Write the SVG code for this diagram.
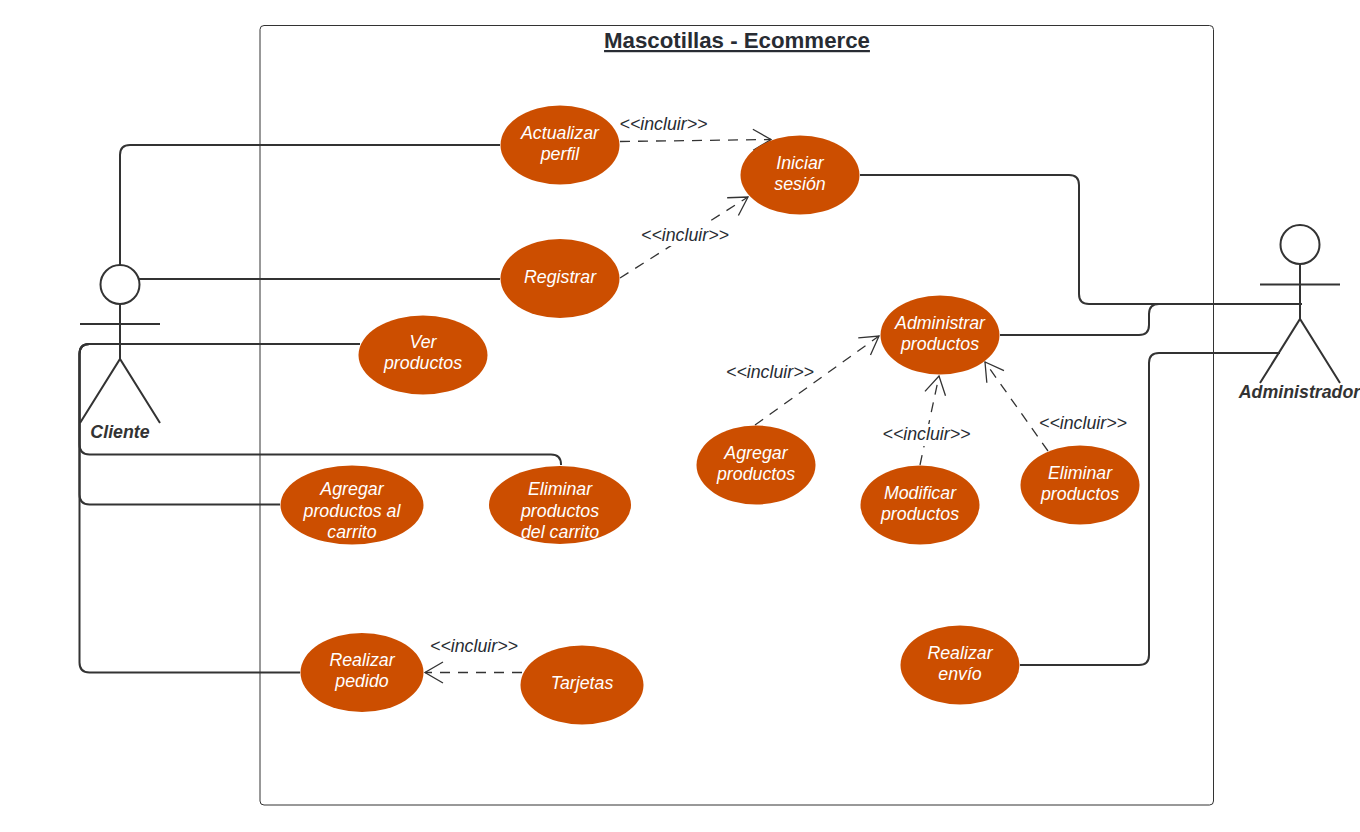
<svg xmlns="http://www.w3.org/2000/svg" width="1360" height="832" viewBox="0 0 1360 832">
<style>
text{font-family:"Liberation Sans",Arial,sans-serif;text-anchor:middle}
.uc{fill:#cc4e00;stroke:none}
.uct{font-size:17.800px;font-style:italic;fill:#fff}
.lbl{font-size:17.800px;font-style:italic;fill:#282c33}
.act{font-size:17.800px;font-style:italic;font-weight:bold;fill:#333}
.solid{fill:none;stroke:#333;stroke-width:2}
.dash{fill:none;stroke:#333;stroke-width:1.3;stroke-dasharray:10 8;marker-end:url(#open)}
.fig{fill:none;stroke:#333;stroke-width:2}
</style>
<defs>
<marker id="open" markerUnits="userSpaceOnUse" markerWidth="24" markerHeight="26" refX="20" refY="12" orient="auto" overflow="visible">
<path d="M2 1.5L20 12L2 22.500" fill="none" stroke="#333" stroke-width="1.300"/>
</marker>
</defs>
<rect width="1360" height="832" fill="#fff"/>
<g id="boundary">
<rect x="260" y="25.500" width="953.500" height="779.500" rx="4" fill="none" stroke="#333" stroke-width="1"/>
<text x="737" y="48" font-size="22.250" font-weight="bold" fill="#282c33" text-decoration="underline">Mascotillas - Ecommerce</text>
</g>
<g id="connectors">
<path class="solid" d="M120 265V155Q120 145 130 145H500"/>
<path class="solid" d="M139 279H500"/>
<path class="solid" d="M360 344H120"/>
<path class="solid" d="M561 465V464.500Q561 454.500 551 454.500H89.500Q79.500 454.500 79.500 444.500V354Q79.500 344 89.500 344H120"/>
<path class="solid" d="M280 504.500H89.500Q79.500 504.500 79.500 494.500V354Q79.500 344 89.500 344H120"/>
<path class="solid" d="M300 672.500H89.500Q79.500 672.500 79.500 662.500V354Q79.500 344 89.500 344H120"/>
<path class="solid" d="M860 175H1069Q1079 175 1079 185V294Q1079 304 1089 304H1302"/>
<path class="solid" d="M1000 335H1139Q1149 335 1149 325V314Q1149 304 1159 304H1302"/>
<path class="solid" d="M1020 665H1139Q1149 665 1149 655V363Q1149 353 1159 353H1280"/>
<path class="dash" d="M620 141.500L771 139.500"/>
<path class="dash" d="M620 278L748 197"/>
<path class="dash" d="M755 425L879 336"/>
<path class="dash" d="M920 465L939 376"/>
<path class="dash" d="M1048 451L985 362"/>
<path class="dash" d="M522 672.500H425"/>
<rect x="641" y="224" width="88" height="22" fill="#fff"/>
<rect x="883" y="424" width="88" height="22" fill="#fff"/>
<text class="lbl" x="663.500" y="130">&lt;&lt;incluir&gt;&gt;</text>
<text class="lbl" x="685" y="241">&lt;&lt;incluir&gt;&gt;</text>
<text class="lbl" x="770" y="378">&lt;&lt;incluir&gt;&gt;</text>
<text class="lbl" x="926.500" y="440">&lt;&lt;incluir&gt;&gt;</text>
<text class="lbl" x="1083" y="429">&lt;&lt;incluir&gt;&gt;</text>
<text class="lbl" x="474" y="652">&lt;&lt;incluir&gt;&gt;</text>
</g>
<g id="actor-cliente">
<circle class="fig" cx="120" cy="284.500" r="19.500"/>
<path class="fig" d="M120 304V359M80 324H160M80 423L120 359L160 423"/>
<text class="act" x="120" y="438">Cliente</text>
</g>
<g id="actor-administrador">
<circle class="fig" cx="1300" cy="244.500" r="19.500"/>
<path class="fig" d="M1300 264V319M1260 284.500H1340M1260 383L1300 319L1340 383"/>
<text class="act" x="1299.500" y="398">Administrador</text>
</g>
<g id="uc-actualizar"><ellipse class="uc" cx="560" cy="145" rx="59.500" ry="39.500"/><text class="uct" x="560" y="139">Actualizar</text><text class="uct" x="560" y="160">perfil</text></g>
<g id="uc-iniciar"><ellipse class="uc" cx="800" cy="175" rx="59.500" ry="39.500"/><text class="uct" x="800" y="169">Iniciar</text><text class="uct" x="800" y="190">sesión</text></g>
<g id="uc-registrar"><ellipse class="uc" cx="560" cy="278.500" rx="59.500" ry="39.500"/><text class="uct" x="560" y="283">Registrar</text></g>
<g id="uc-ver"><ellipse class="uc" cx="423" cy="355" rx="64.500" ry="39.500"/><text class="uct" x="423" y="348">Ver</text><text class="uct" x="423" y="369">productos</text></g>
<g id="uc-agregar-carrito"><ellipse class="uc" cx="352" cy="505" rx="71.500" ry="39.500"/><text class="uct" x="352" y="495">Agregar</text><text class="uct" x="352" y="517">productos al</text><text class="uct" x="352" y="538">carrito</text></g>
<g id="uc-eliminar-carrito"><ellipse class="uc" cx="560" cy="505" rx="71" ry="39"/><text class="uct" x="560" y="495">Eliminar</text><text class="uct" x="560" y="517">productos</text><text class="uct" x="560" y="538">del carrito</text></g>
<g id="uc-realizar-pedido"><ellipse class="uc" cx="362" cy="672.500" rx="61.500" ry="39.500"/><text class="uct" x="362" y="666">Realizar</text><text class="uct" x="362" y="687">pedido</text></g>
<g id="uc-tarjetas"><ellipse class="uc" cx="582" cy="685" rx="61.500" ry="39.500"/><text class="uct" x="582" y="689">Tarjetas</text></g>
<g id="uc-administrar"><ellipse class="uc" cx="940" cy="335" rx="59.500" ry="39.500"/><text class="uct" x="940" y="329">Administrar</text><text class="uct" x="940" y="350">productos</text></g>
<g id="uc-agregar-productos"><ellipse class="uc" cx="756" cy="465" rx="59.500" ry="39.500"/><text class="uct" x="756" y="459">Agregar</text><text class="uct" x="756" y="480">productos</text></g>
<g id="uc-modificar"><ellipse class="uc" cx="920" cy="505" rx="59.500" ry="39.500"/><text class="uct" x="920" y="499">Modificar</text><text class="uct" x="920" y="520">productos</text></g>
<g id="uc-eliminar-productos"><ellipse class="uc" cx="1080" cy="485" rx="59.500" ry="39.500"/><text class="uct" x="1080" y="479">Eliminar</text><text class="uct" x="1080" y="500">productos</text></g>
<g id="uc-realizar-envio"><ellipse class="uc" cx="960" cy="665" rx="59.500" ry="39.500"/><text class="uct" x="960" y="659">Realizar</text><text class="uct" x="960" y="680">envío</text></g>
</svg>
